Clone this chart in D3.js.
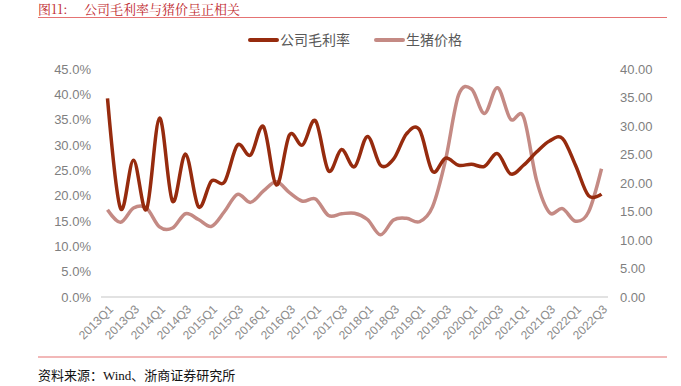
<!DOCTYPE html>
<html>
<head>
<meta charset="utf-8">
<script src="https://cdn.jsdelivr.net/npm/d3@7"></script>
<style>
  body { margin: 0; background: #fff; }
  svg { display: block; }
</style>
</head>
<body>
<div id="chart"></div>
<script>
const w = 681;
const h = 386;

// quarters 2013Q1 .. 2022Q3
const quarters = [];
for (let y = 2013; y <= 2022; y++) {
    for (let q = 1; q <= 4; q++) {
        if (y === 2022 && q > 3) break;
        quarters.push(y + "Q" + q);
    }
}
// 公司毛利率 (%)
const margin = [39.2, 17.5, 27.0, 17.3, 35.3, 18.9, 28.2, 17.8, 22.9, 22.7,
    30.0, 28.0, 33.6, 22.1, 32.0, 30.0, 34.8, 24.9, 29.1, 25.7,
    31.7, 26.0, 27.2, 32.2, 33.0, 24.8, 27.4, 26.0, 26.2, 25.8,
    28.3, 24.3, 26.0, 28.6, 30.8, 31.3, 26.0, 20.0, 20.3];
// 生猪价格
const pigPrice = [15.3, 13.1, 15.6, 15.6, 12.3, 12.1, 14.6, 13.6, 12.4, 15.0,
    18.0, 16.6, 18.6, 20.2, 18.3, 16.8, 17.2, 14.3, 14.6, 14.7,
    13.6, 10.9, 13.5, 13.8, 13.2, 15.8, 24.0, 35.4, 36.5, 32.2,
    36.7, 31.2, 31.6, 20.5, 14.8, 15.5, 13.3, 14.9, 22.5];
const leftTicks = [0, 5, 10, 15, 20, 25, 30, 35, 40, 45];
const rightTicks = [0, 5, 10, 15, 20, 25, 30, 35, 40];

const darkRed = "#962b0e";
const pink = "#c48a84";

const svg = d3.select("#chart")
    .append("svg")
        .attr("width", w)
        .attr("height", h);

// title + rules
const titleFont = "'Noto Serif CJK SC', 'Noto Sans CJK SC', serif";
svg.append("text")
    .attr("x", 38).attr("y", 14)
    .attr("fill", "#c0282d")
    .style("font-family", titleFont)
    .style("font-size", "13px")
    .text("图11:");
svg.append("text")
    .attr("x", 84).attr("y", 14)
    .attr("fill", "#c0282d")
    .style("font-family", titleFont)
    .style("font-size", "13px")
    .text("公司毛利率与猪价呈正相关");
svg.append("line").attr("x1", 38).attr("x2", 667).attr("y1", 17.5).attr("y2", 17.5)
    .attr("stroke", "#e57373").attr("stroke-width", 1.2);
svg.append("line").attr("x1", 38).attr("x2", 667).attr("y1", 357).attr("y2", 357)
    .attr("stroke", "#e57373").attr("stroke-width", 1.2);
svg.append("text")
    .attr("x", 38).attr("y", 380)
    .attr("fill", "#111")
    .style("font-family", "'Liberation Serif', 'Noto Sans CJK SC', serif")
    .style("font-size", "13px")
    .text("资料来源：Wind、浙商证券研究所");

const plot = {left: 101, right: 608, top: 69, bottom: 297};

const x = d3.scalePoint()
    .domain(quarters)
    .range([plot.left, plot.right])
    .padding(0.5);
const yL = d3.scaleLinear().domain([0, 45]).range([plot.bottom, plot.top]);
const yR = d3.scaleLinear().domain([0, 40]).range([plot.bottom, plot.top]);

const font = "'Liberation Sans', Arial, sans-serif";

// left axis
const axL = svg.append("g")
    .attr("transform", "translate(" + (plot.left - 10) + ",0)")
    .call(d3.axisLeft(yL).tickValues(leftTicks).tickSize(0).tickPadding(0)
        .tickFormat(d => d.toFixed(1) + "%"));
axL.select(".domain").remove();
axL.selectAll("text").attr("fill", "#7f7f7f").style("font-family", font).style("font-size", "13px");

// right axis
const axR = svg.append("g")
    .attr("transform", "translate(" + (plot.right + 12) + ",0)")
    .call(d3.axisRight(yR).tickValues(rightTicks).tickSize(0).tickPadding(0)
        .tickFormat(d => d.toFixed(2)));
axR.select(".domain").remove();
axR.selectAll("text").attr("fill", "#7f7f7f").style("font-family", font).style("font-size", "13px");

// bottom axis
const axB = svg.append("g")
    .attr("transform", "translate(0," + plot.bottom + ")")
    .call(d3.axisBottom(x).tickValues(quarters.filter((d, i) => i % 2 === 0)).tickSize(0).tickPadding(0));
axB.select(".domain").attr("stroke", "#d9d9d9").attr("stroke-width", 1.5)
    .attr("d", "M" + plot.left + ",0H" + plot.right);
axB.selectAll("text")
    .attr("fill", "#8c8c8c")
    .style("font-family", font).style("font-size", "12px")
    .style("text-anchor", "end")
    .attr("dy", "0.35em")
    .attr("transform", "translate(3,10)rotate(-45)");

// lines
const lineL = d3.line().x((d, i) => x(quarters[i])).y(d => yL(d)).curve(d3.curveCatmullRom.alpha(0));
const lineR = d3.line().x((d, i) => x(quarters[i])).y(d => yR(d)).curve(d3.curveCatmullRom.alpha(0));

svg.append("path").datum(pigPrice)
    .attr("d", lineR).attr("fill", "none")
    .attr("stroke", pink).attr("stroke-width", 3.5).attr("stroke-linejoin", "round");
svg.append("path").datum(margin)
    .attr("d", lineL).attr("fill", "none")
    .attr("stroke", darkRed).attr("stroke-width", 3.5).attr("stroke-linejoin", "round");

// legend
const legend = [
    {name: "公司毛利率", color: darkRed, x: 250},
    {name: "生猪价格", color: pink, x: 376}
];
const lg = svg.selectAll(".lg").data(legend).enter().append("g")
    .attr("transform", d => "translate(" + d.x + ",40)");
lg.append("line").attr("x1", 0).attr("x2", 27).attr("y1", 0).attr("y2", 0)
    .attr("stroke", d => d.color).attr("stroke-width", 4).attr("stroke-linecap", "round");
lg.append("text").attr("x", 30).attr("y", 5)
    .attr("fill", "#595959")
    .style("font-family", "'Noto Sans CJK SC', sans-serif")
    .style("font-size", "14px")
    .text(d => d.name);
</script>
</body>
</html>
